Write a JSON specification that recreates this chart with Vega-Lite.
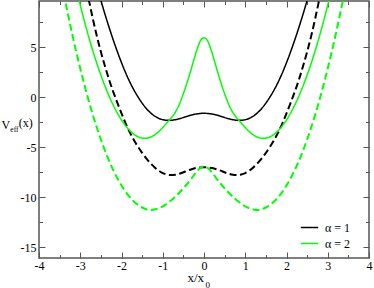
{
  "$schema": "https://vega.github.io/schema/vega-lite/v6.json",
  "width": 330,
  "height": 257,
  "autosize": {"type": "none"},
  "padding": {"left": 39, "top": 1, "right": 5, "bottom": 30},
  "title": {"text": "(x)", "orient": "top", "anchor": "start", "frame": "group", "offset": 0,
    "baseline": "alphabetic", "dx": -20.2, "dy": 138,
    "font": "Times New Roman, Liberation Serif, serif", "fontSize": 12, "fontWeight": "normal", "color": "#000000"},
  "config": {
    "view": {"stroke": "#555555", "strokeWidth": 1.5},
    "axis": {
      "domain": false,
      "grid": false,
      "labelFont": "Times New Roman, Liberation Serif, serif",
      "labelFontSize": 12,
      "labelColor": "#000000",
      "labelFlush": false,
      "labelOverlap": false,
      "tickColor": "#555555",
      "tickWidth": 1,
      "titleFont": "Times New Roman, Liberation Serif, serif",
      "titleFontWeight": "normal",
      "titleColor": "#000000"
    },
    "legend": {
      "labelFont": "Times New Roman, Liberation Serif, serif",
      "labelFontSize": 12
    }
  },
  "data": {"values": [
    {"a":1,"d":"s","x":-2.6,"y":11.15},{"a":1,"d":"s","x":-2.5,"y":9.69},{"a":1,"d":"s","x":-2.4,"y":8.30},{"a":1,"d":"s","x":-2.3,"y":6.98},{"a":1,"d":"s","x":-2.2,"y":5.73},{"a":1,"d":"s","x":-2.1,"y":4.56},{"a":1,"d":"s","x":-2.0,"y":3.46},{"a":1,"d":"s","x":-1.9,"y":2.45},{"a":1,"d":"s","x":-1.8,"y":1.54},{"a":1,"d":"s","x":-1.7,"y":0.74},{"a":1,"d":"s","x":-1.6,"y":0.04},{"a":1,"d":"s","x":-1.5,"y":-0.58},{"a":1,"d":"s","x":-1.4,"y":-1.11},{"a":1,"d":"s","x":-1.3,"y":-1.54},{"a":1,"d":"s","x":-1.2,"y":-1.87},{"a":1,"d":"s","x":-1.1,"y":-2.10},{"a":1,"d":"s","x":-1.0,"y":-2.24},{"a":1,"d":"s","x":-0.9,"y":-2.30},{"a":1,"d":"s","x":-0.8,"y":-2.30},{"a":1,"d":"s","x":-0.7,"y":-2.24},{"a":1,"d":"s","x":-0.6,"y":-2.14},{"a":1,"d":"s","x":-0.5,"y":-2.02},{"a":1,"d":"s","x":-0.4,"y":-1.89},{"a":1,"d":"s","x":-0.3,"y":-1.77},{"a":1,"d":"s","x":-0.2,"y":-1.68},{"a":1,"d":"s","x":-0.1,"y":-1.62},{"a":1,"d":"s","x":0,"y":-1.60},
    {"a":1,"d":"s","x":0.1,"y":-1.62},{"a":1,"d":"s","x":0.2,"y":-1.68},{"a":1,"d":"s","x":0.3,"y":-1.77},{"a":1,"d":"s","x":0.4,"y":-1.89},{"a":1,"d":"s","x":0.5,"y":-2.02},{"a":1,"d":"s","x":0.6,"y":-2.14},{"a":1,"d":"s","x":0.7,"y":-2.24},{"a":1,"d":"s","x":0.8,"y":-2.30},{"a":1,"d":"s","x":0.9,"y":-2.30},{"a":1,"d":"s","x":1.0,"y":-2.24},{"a":1,"d":"s","x":1.1,"y":-2.10},{"a":1,"d":"s","x":1.2,"y":-1.87},{"a":1,"d":"s","x":1.3,"y":-1.54},{"a":1,"d":"s","x":1.4,"y":-1.11},{"a":1,"d":"s","x":1.5,"y":-0.58},{"a":1,"d":"s","x":1.6,"y":0.04},{"a":1,"d":"s","x":1.7,"y":0.74},{"a":1,"d":"s","x":1.8,"y":1.54},{"a":1,"d":"s","x":1.9,"y":2.45},{"a":1,"d":"s","x":2.0,"y":3.46},{"a":1,"d":"s","x":2.1,"y":4.56},{"a":1,"d":"s","x":2.2,"y":5.73},{"a":1,"d":"s","x":2.3,"y":6.98},{"a":1,"d":"s","x":2.4,"y":8.30},{"a":1,"d":"s","x":2.5,"y":9.69},{"a":1,"d":"s","x":2.6,"y":11.15},
    {"a":1,"d":"d","x":-2.9,"y":11.9},{"a":1,"d":"d","x":-2.8,"y":9.90},{"a":1,"d":"d","x":-2.7,"y":7.95},{"a":1,"d":"d","x":-2.6,"y":6.15},{"a":1,"d":"d","x":-2.5,"y":4.55},{"a":1,"d":"d","x":-2.4,"y":3.10},{"a":1,"d":"d","x":-2.3,"y":1.75},{"a":1,"d":"d","x":-2.2,"y":0.55},{"a":1,"d":"d","x":-2.1,"y":-0.55},{"a":1,"d":"d","x":-2.0,"y":-1.60},{"a":1,"d":"d","x":-1.9,"y":-2.60},{"a":1,"d":"d","x":-1.8,"y":-3.50},{"a":1,"d":"d","x":-1.7,"y":-4.27},{"a":1,"d":"d","x":-1.6,"y":-4.95},{"a":1,"d":"d","x":-1.5,"y":-5.55},{"a":1,"d":"d","x":-1.4,"y":-6.10},{"a":1,"d":"d","x":-1.3,"y":-6.58},{"a":1,"d":"d","x":-1.2,"y":-6.99},{"a":1,"d":"d","x":-1.1,"y":-7.33},{"a":1,"d":"d","x":-1.0,"y":-7.58},{"a":1,"d":"d","x":-0.9,"y":-7.72},{"a":1,"d":"d","x":-0.8,"y":-7.78},{"a":1,"d":"d","x":-0.7,"y":-7.75},{"a":1,"d":"d","x":-0.6,"y":-7.65},{"a":1,"d":"d","x":-0.5,"y":-7.50},{"a":1,"d":"d","x":-0.4,"y":-7.33},{"a":1,"d":"d","x":-0.3,"y":-7.19},{"a":1,"d":"d","x":-0.2,"y":-7.08},{"a":1,"d":"d","x":-0.1,"y":-7.02},{"a":1,"d":"d","x":0,"y":-7.00},
    {"a":1,"d":"d","x":0.1,"y":-7.02},{"a":1,"d":"d","x":0.2,"y":-7.08},{"a":1,"d":"d","x":0.3,"y":-7.19},{"a":1,"d":"d","x":0.4,"y":-7.33},{"a":1,"d":"d","x":0.5,"y":-7.50},{"a":1,"d":"d","x":0.6,"y":-7.65},{"a":1,"d":"d","x":0.7,"y":-7.75},{"a":1,"d":"d","x":0.8,"y":-7.78},{"a":1,"d":"d","x":0.9,"y":-7.72},{"a":1,"d":"d","x":1.0,"y":-7.58},{"a":1,"d":"d","x":1.1,"y":-7.33},{"a":1,"d":"d","x":1.2,"y":-6.99},{"a":1,"d":"d","x":1.3,"y":-6.58},{"a":1,"d":"d","x":1.4,"y":-6.10},{"a":1,"d":"d","x":1.5,"y":-5.55},{"a":1,"d":"d","x":1.6,"y":-4.95},{"a":1,"d":"d","x":1.7,"y":-4.27},{"a":1,"d":"d","x":1.8,"y":-3.50},{"a":1,"d":"d","x":1.9,"y":-2.60},{"a":1,"d":"d","x":2.0,"y":-1.60},{"a":1,"d":"d","x":2.1,"y":-0.55},{"a":1,"d":"d","x":2.2,"y":0.55},{"a":1,"d":"d","x":2.3,"y":1.75},{"a":1,"d":"d","x":2.4,"y":3.10},{"a":1,"d":"d","x":2.5,"y":4.55},{"a":1,"d":"d","x":2.6,"y":6.15},{"a":1,"d":"d","x":2.7,"y":7.95},{"a":1,"d":"d","x":2.8,"y":9.90},{"a":1,"d":"d","x":2.9,"y":11.9},
    {"a":2,"d":"s","x":-3.1,"y":10.92},{"a":2,"d":"s","x":-3.0,"y":9.22},{"a":2,"d":"s","x":-2.9,"y":7.62},{"a":2,"d":"s","x":-2.8,"y":6.12},{"a":2,"d":"s","x":-2.7,"y":4.72},{"a":2,"d":"s","x":-2.6,"y":3.42},{"a":2,"d":"s","x":-2.5,"y":2.22},{"a":2,"d":"s","x":-2.4,"y":1.12},{"a":2,"d":"s","x":-2.3,"y":0.12},{"a":2,"d":"s","x":-2.2,"y":-0.78},{"a":2,"d":"s","x":-2.1,"y":-1.58},{"a":2,"d":"s","x":-2.0,"y":-2.27},{"a":2,"d":"s","x":-1.9,"y":-2.85},{"a":2,"d":"s","x":-1.8,"y":-3.33},{"a":2,"d":"s","x":-1.7,"y":-3.70},{"a":2,"d":"s","x":-1.6,"y":-3.95},{"a":2,"d":"s","x":-1.5,"y":-4.08},{"a":2,"d":"s","x":-1.4,"y":-4.10},{"a":2,"d":"s","x":-1.3,"y":-3.99},{"a":2,"d":"s","x":-1.2,"y":-3.77},{"a":2,"d":"s","x":-1.1,"y":-3.45},{"a":2,"d":"s","x":-1.0,"y":-3.03},{"a":2,"d":"s","x":-0.9,"y":-2.56},{"a":2,"d":"s","x":-0.8,"y":-2.08},{"a":2,"d":"s","x":-0.75,"y":-1.82},{"a":2,"d":"s","x":-0.7,"y":-1.52},{"a":2,"d":"s","x":-0.65,"y":-1.15},{"a":2,"d":"s","x":-0.6,"y":-0.72},{"a":2,"d":"s","x":-0.55,"y":-0.20},{"a":2,"d":"s","x":-0.5,"y":0.36},{"a":2,"d":"s","x":-0.45,"y":0.96},{"a":2,"d":"s","x":-0.4,"y":1.60},{"a":2,"d":"s","x":-0.35,"y":2.27},{"a":2,"d":"s","x":-0.3,"y":2.97},{"a":2,"d":"s","x":-0.25,"y":3.68},{"a":2,"d":"s","x":-0.2,"y":4.38},{"a":2,"d":"s","x":-0.15,"y":5.02},{"a":2,"d":"s","x":-0.1,"y":5.55},{"a":2,"d":"s","x":-0.05,"y":5.85},{"a":2,"d":"s","x":0,"y":5.95},
    {"a":2,"d":"s","x":0.05,"y":5.85},{"a":2,"d":"s","x":0.1,"y":5.55},{"a":2,"d":"s","x":0.15,"y":5.02},{"a":2,"d":"s","x":0.2,"y":4.38},{"a":2,"d":"s","x":0.25,"y":3.68},{"a":2,"d":"s","x":0.3,"y":2.97},{"a":2,"d":"s","x":0.35,"y":2.27},{"a":2,"d":"s","x":0.4,"y":1.60},{"a":2,"d":"s","x":0.45,"y":0.96},{"a":2,"d":"s","x":0.5,"y":0.36},{"a":2,"d":"s","x":0.55,"y":-0.20},{"a":2,"d":"s","x":0.6,"y":-0.72},{"a":2,"d":"s","x":0.65,"y":-1.15},{"a":2,"d":"s","x":0.7,"y":-1.52},{"a":2,"d":"s","x":0.75,"y":-1.82},{"a":2,"d":"s","x":0.8,"y":-2.08},{"a":2,"d":"s","x":0.9,"y":-2.56},{"a":2,"d":"s","x":1.0,"y":-3.03},{"a":2,"d":"s","x":1.1,"y":-3.45},{"a":2,"d":"s","x":1.2,"y":-3.77},{"a":2,"d":"s","x":1.3,"y":-3.99},{"a":2,"d":"s","x":1.4,"y":-4.10},{"a":2,"d":"s","x":1.5,"y":-4.08},{"a":2,"d":"s","x":1.6,"y":-3.95},{"a":2,"d":"s","x":1.7,"y":-3.70},{"a":2,"d":"s","x":1.8,"y":-3.33},{"a":2,"d":"s","x":1.9,"y":-2.85},{"a":2,"d":"s","x":2.0,"y":-2.27},{"a":2,"d":"s","x":2.1,"y":-1.58},{"a":2,"d":"s","x":2.2,"y":-0.78},{"a":2,"d":"s","x":2.3,"y":0.12},{"a":2,"d":"s","x":2.4,"y":1.12},{"a":2,"d":"s","x":2.5,"y":2.22},{"a":2,"d":"s","x":2.6,"y":3.42},{"a":2,"d":"s","x":2.7,"y":4.72},{"a":2,"d":"s","x":2.8,"y":6.12},{"a":2,"d":"s","x":2.9,"y":7.62},{"a":2,"d":"s","x":3.0,"y":9.22},{"a":2,"d":"s","x":3.1,"y":10.92},
    {"a":2,"d":"d","x":-3.5,"y":12.5},{"a":2,"d":"d","x":-3.4,"y":10.36},{"a":2,"d":"d","x":-3.3,"y":8.34},{"a":2,"d":"d","x":-3.2,"y":6.42},{"a":2,"d":"d","x":-3.1,"y":4.60},{"a":2,"d":"d","x":-3.0,"y":2.88},{"a":2,"d":"d","x":-2.9,"y":1.26},{"a":2,"d":"d","x":-2.8,"y":-0.26},{"a":2,"d":"d","x":-2.7,"y":-1.68},{"a":2,"d":"d","x":-2.6,"y":-3.00},{"a":2,"d":"d","x":-2.5,"y":-4.22},{"a":2,"d":"d","x":-2.4,"y":-5.34},{"a":2,"d":"d","x":-2.3,"y":-6.36},{"a":2,"d":"d","x":-2.2,"y":-7.28},{"a":2,"d":"d","x":-2.1,"y":-8.10},{"a":2,"d":"d","x":-2.0,"y":-8.82},{"a":2,"d":"d","x":-1.9,"y":-9.45},{"a":2,"d":"d","x":-1.8,"y":-9.98},{"a":2,"d":"d","x":-1.7,"y":-10.42},{"a":2,"d":"d","x":-1.6,"y":-10.76},{"a":2,"d":"d","x":-1.5,"y":-11.02},{"a":2,"d":"d","x":-1.4,"y":-11.20},{"a":2,"d":"d","x":-1.3,"y":-11.28},{"a":2,"d":"d","x":-1.2,"y":-11.23},{"a":2,"d":"d","x":-1.1,"y":-11.10},{"a":2,"d":"d","x":-1.0,"y":-10.90},{"a":2,"d":"d","x":-0.9,"y":-10.64},{"a":2,"d":"d","x":-0.8,"y":-10.32},{"a":2,"d":"d","x":-0.7,"y":-9.95},{"a":2,"d":"d","x":-0.6,"y":-9.55},{"a":2,"d":"d","x":-0.5,"y":-9.10},{"a":2,"d":"d","x":-0.4,"y":-8.62},{"a":2,"d":"d","x":-0.3,"y":-8.10},{"a":2,"d":"d","x":-0.2,"y":-7.55},{"a":2,"d":"d","x":-0.1,"y":-7.10},{"a":2,"d":"d","x":0,"y":-6.92},
    {"a":2,"d":"d","x":0.1,"y":-7.10},{"a":2,"d":"d","x":0.2,"y":-7.55},{"a":2,"d":"d","x":0.3,"y":-8.10},{"a":2,"d":"d","x":0.4,"y":-8.62},{"a":2,"d":"d","x":0.5,"y":-9.10},{"a":2,"d":"d","x":0.6,"y":-9.55},{"a":2,"d":"d","x":0.7,"y":-9.95},{"a":2,"d":"d","x":0.8,"y":-10.32},{"a":2,"d":"d","x":0.9,"y":-10.64},{"a":2,"d":"d","x":1.0,"y":-10.90},{"a":2,"d":"d","x":1.1,"y":-11.10},{"a":2,"d":"d","x":1.2,"y":-11.23},{"a":2,"d":"d","x":1.3,"y":-11.28},{"a":2,"d":"d","x":1.4,"y":-11.20},{"a":2,"d":"d","x":1.5,"y":-11.02},{"a":2,"d":"d","x":1.6,"y":-10.76},{"a":2,"d":"d","x":1.7,"y":-10.42},{"a":2,"d":"d","x":1.8,"y":-9.98},{"a":2,"d":"d","x":1.9,"y":-9.45},{"a":2,"d":"d","x":2.0,"y":-8.82},{"a":2,"d":"d","x":2.1,"y":-8.10},{"a":2,"d":"d","x":2.2,"y":-7.28},{"a":2,"d":"d","x":2.3,"y":-6.36},{"a":2,"d":"d","x":2.4,"y":-5.34},{"a":2,"d":"d","x":2.5,"y":-4.22},{"a":2,"d":"d","x":2.6,"y":-3.00},{"a":2,"d":"d","x":2.7,"y":-1.68},{"a":2,"d":"d","x":2.8,"y":-0.26},{"a":2,"d":"d","x":2.9,"y":1.26},{"a":2,"d":"d","x":3.0,"y":2.88},{"a":2,"d":"d","x":3.1,"y":4.60},{"a":2,"d":"d","x":3.2,"y":6.42},{"a":2,"d":"d","x":3.3,"y":8.34},{"a":2,"d":"d","x":3.4,"y":10.36},{"a":2,"d":"d","x":3.5,"y":12.5}
  ]},
  "encoding": {
    "color": {"field": "a", "type": "nominal",
      "scale": {"domain": [1, 2], "range": ["#000000", "#00ff00"]},
      "legend": {"title": null, "orient": "none", "legendX": 261, "legendY": 217,
        "symbolType": "stroke", "symbolSize": 300, "symbolStrokeWidth": 1.5,
        "labelOffset": 6, "rowPadding": -10, "padding": 0,
        "labelExpr": "'α = ' + datum.label"}},
    "strokeDash": {"field": "d", "type": "nominal",
      "scale": {"domain": ["s", "d"], "range": [[1, 0], [7, 3.5]]}, "legend": null},
    "strokeWidth": {"field": "d", "type": "nominal",
      "scale": {"domain": ["s", "d"], "range": [1.5, 2]}, "legend": null}
  },
  "layer": [
    {
      "transform": [{"filter": "datum.a === 1"}],
      "mark": {"type": "line", "clip": true, "interpolate": "monotone"},
      "encoding": {
        "x": {"field": "x", "type": "quantitative",
          "scale": {"domain": [-4, 4], "nice": false},
          "axis": {"orient": "bottom",
            "values": [-4,-3.5,-3,-2.5,-2,-1.5,-1,-0.5,0,0.5,1,1.5,2,2.5,3,3.5,4],
            "labelExpr": "datum.value % 1 === 0 ? '' + datum.value : ''",
            "tickSize": {"condition": {"test": "datum.value % 1 !== 0", "value": -3.5}, "value": -6},
            "labelPadding": 8,
            "title": "x/x", "titleFontSize": 13, "titleAlign": "left", "titleBaseline": "alphabetic",
            "titleX": 148, "titleY": 23.5}},
        "y": {"field": "y", "type": "quantitative",
          "scale": {"domain": [-16.07, 9.63], "nice": false, "zero": false},
          "axis": {"orient": "left",
            "values": [-15,-12.5,-10,-7.5,-5,-2.5,0,2.5,5,7.5],
            "labelExpr": "datum.value % 5 === 0 ? '' + datum.value : ''",
            "tickSize": {"condition": {"test": "datum.value % 5 !== 0", "value": -3.5}, "value": -6},
            "labelPadding": 9,
            "title": "V", "titleFontSize": 12, "titleAngle": 0, "titleAlign": "left",
            "titleBaseline": "alphabetic", "titleX": -38, "titleY": 127}}
      }
    },
    {
      "transform": [{"filter": "datum.a === 2"}],
      "mark": {"type": "line", "clip": true, "interpolate": "monotone"},
      "encoding": {
        "x": {"field": "x", "type": "quantitative",
          "axis": {"orient": "top", "labels": false,
            "values": [-4,-3.5,-3,-2.5,-2,-1.5,-1,-0.5,0,0.5,1,1.5,2,2.5,3,3.5,4],
            "tickSize": {"condition": {"test": "datum.value % 1 !== 0", "value": -3.5}, "value": -6},
            "title": "0", "titleFontSize": 9, "titleAlign": "left", "titleBaseline": "alphabetic",
            "titleX": 166, "titleY": 286}},
        "y": {"field": "y", "type": "quantitative",
          "axis": {"orient": "right", "labels": false,
            "values": [-15,-12.5,-10,-7.5,-5,-2.5,0,2.5,5,7.5],
            "tickSize": {"condition": {"test": "datum.value % 5 !== 0", "value": -3.5}, "value": -6},
            "title": "eff", "titleFontSize": 7.5, "titleAngle": 0, "titleAlign": "left",
            "titleBaseline": "alphabetic", "titleX": -359.2, "titleY": 130}}
      }
    }
  ],
  "resolve": {"axis": {"x": "independent", "y": "independent"}}
}
